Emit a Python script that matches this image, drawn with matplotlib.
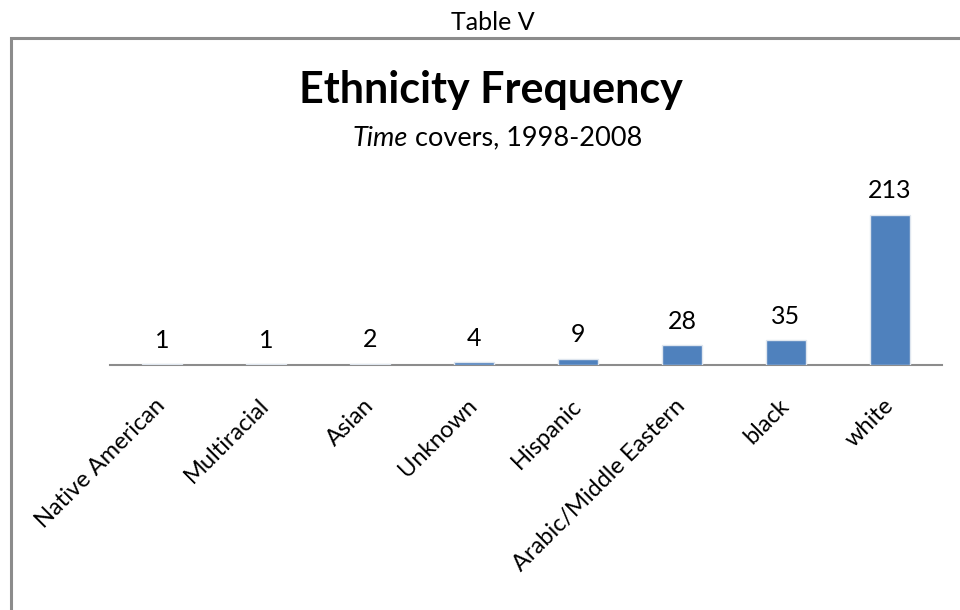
import matplotlib
matplotlib.use("Agg")
import matplotlib.pyplot as plt
from matplotlib.patches import Rectangle

categories = ["Native American", "Multiracial", "Asian", "Unknown", "Hispanic",
              "Arabic/Middle Eastern", "black", "white"]
values = [1, 1, 2, 4, 9, 28, 35, 213]

FONT = ["Lato", "DejaVu Sans"]
W, H = 960, 610
fig = plt.figure(figsize=(9.6, 6.1), dpi=100)

# outer border box
fig.patches.append(Rectangle((11 / W, -0.1), 1.2, 1 - 38 / H + 0.1, transform=fig.transFigure,
                             fill=False, edgecolor="#8c8c8c", linewidth=2.2))

fig.text(493 / W, 1 - 23 / H, "Table V", ha="center", va="center", fontsize=18, family=FONT)
fig.text(491 / W, 1 - 90 / H, "Ethnicity Frequency", ha="center", va="center",
         fontsize=31, fontweight="bold", family=FONT)

# subtitle with italic first word
renderer = fig.canvas.get_renderer()
t1 = fig.text(0, 0, "Time", fontsize=19.5, style="italic", family=FONT)
t2 = fig.text(0, 0, " covers, 1998-2008", fontsize=19.5, family=FONT)
w1 = t1.get_window_extent(renderer).width
w2 = t2.get_window_extent(renderer).width
total = w1 + w2
x0 = 497 - total / 2
t1.set_position(((x0) / W, 1 - 138 / H))
t1.set_va("center")
t2.set_position(((x0 + w1) / W, 1 - 138 / H))
t2.set_va("center")

ax_left, ax_right = 110, 942
base_y, top_y = 365, 180
ax = fig.add_axes([ax_left / W, 1 - base_y / H, (ax_right - ax_left) / W, (base_y - top_y) / H])
x = range(len(categories))
bars = ax.bar(x, values, width=0.385, color="#4F81BD", edgecolor="#dfe6ef", linewidth=1.0, zorder=3)
ax.set_xlim(-0.5, len(categories) - 0.5)
ax.set_ylim(0, 213 * (base_y - top_y) / 150)
for xi, v in zip(x, values):
    ax.annotate(str(v), (xi, v), xytext=(0, 9), textcoords="offset points",
                ha="center", va="bottom", fontsize=18, family=FONT)
for s in ["top", "right", "left"]:
    ax.spines[s].set_visible(False)
ax.spines["bottom"].set_color("#8c8c8c")
ax.spines["bottom"].set_linewidth(1.5)
ax.set_yticks([])
ax.set_xticks(list(x))
ax.set_xticklabels(categories, rotation=45, ha="right", va="center", rotation_mode="anchor",
                   fontsize=17, family=FONT)
ax.tick_params(axis="x", length=0, pad=27)
ax.patch.set_alpha(0)

fig.savefig("out.png", dpi=100)
